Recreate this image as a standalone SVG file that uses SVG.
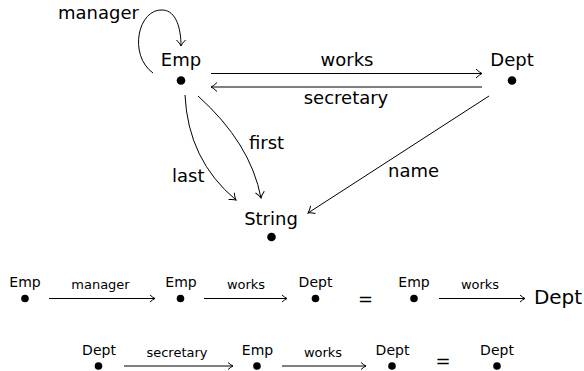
<svg xmlns="http://www.w3.org/2000/svg" width="584" height="371" viewBox="0 0 584 371">
<style>
text{font-family:"DejaVu Sans",sans-serif;fill:#000}
.n{font-size:18px;text-anchor:middle}
.e{font-size:18px}
.sn{font-size:14px;text-anchor:middle}
.se{font-size:13px;text-anchor:middle}
.c{fill:none;stroke:#000;stroke-width:1}
.d{fill:#000}
</style>
<defs>
<marker id="ah" markerUnits="userSpaceOnUse" markerWidth="12" markerHeight="12" viewBox="-8 -6 10 12" refX="0" refY="0" orient="auto">
<path d="M-6,-4.5 Q-2.5,-1 0,0 Q-2.5,1 -6,4.5" fill="none" stroke="#000" stroke-width="1"/>
</marker>
<marker id="as" markerUnits="userSpaceOnUse" markerWidth="10" markerHeight="10" viewBox="-7 -5 8 10" refX="0" refY="0" orient="auto">
<path d="M-5,-3.5 Q-2,-0.8 0,0 Q-2,0.8 -5,3.5" fill="none" stroke="#000" stroke-width="1"/>
</marker>
</defs>

<g id="connectors">
<path class="c" d="M153,73 C128,55 138,8 163,10 C176,11 181,28 181,46" marker-end="url(#ah)"/>
<text class="e" x="58" y="19">manager</text>
<line class="c" x1="211" y1="73.5" x2="482" y2="73.5" marker-end="url(#ah)"/>
<text class="e" x="347" y="66" text-anchor="middle">works</text>
<line class="c" x1="482" y1="87" x2="211" y2="87" marker-end="url(#ah)"/>
<text class="e" x="346" y="104" text-anchor="middle">secretary</text>
<path class="c" d="M185,95 Q188,160 236,200" marker-end="url(#ah)"/>
<text class="e" x="172" y="182">last</text>
<path class="c" d="M198,96 Q250.5,143 261,198" marker-end="url(#ah)"/>
<text class="e" x="249" y="149">first</text>
<line class="c" x1="489" y1="96" x2="308" y2="213" marker-end="url(#ah)"/>
<text class="e" x="388" y="177">name</text>
</g>

<g id="Emp">
<text class="n" x="181" y="66">Emp</text>
<circle class="d" cx="181" cy="80.5" r="4.3"/>
</g>
<g id="Dept">
<text class="n" x="512" y="66">Dept</text>
<circle class="d" cx="512" cy="80.5" r="4.3"/>
</g>
<g id="String">
<text class="n" x="271" y="225">String</text>
<circle class="d" cx="271.5" cy="237" r="4.3"/>
</g>

<g id="equation1">
<g id="eq1-emp1"><text class="sn" x="25" y="287">Emp</text><circle class="d" cx="25" cy="298.5" r="3.8"/></g>
<line class="c" x1="49" y1="298.5" x2="155" y2="298.5" marker-end="url(#as)"/>
<text class="se" x="100.5" y="289">manager</text>
<g id="eq1-emp2"><text class="sn" x="181" y="287">Emp</text><circle class="d" cx="180.5" cy="298.5" r="3.8"/></g>
<line class="c" x1="204" y1="298.5" x2="287" y2="298.5" marker-end="url(#as)"/>
<text class="se" x="246" y="289">works</text>
<g id="eq1-dept"><text class="sn" x="315.5" y="287">Dept</text><circle class="d" cx="315.5" cy="298.5" r="3.8"/></g>
<text class="n" x="365.5" y="305">=</text>
<g id="eq1-emp3"><text class="sn" x="414" y="287">Emp</text><circle class="d" cx="414" cy="298.5" r="3.8"/></g>
<line class="c" x1="439" y1="298.5" x2="525" y2="298.5" marker-end="url(#as)"/>
<text class="se" x="480" y="289">works</text>
<g id="eq1-dept2"><text x="558" y="304" font-size="20" text-anchor="middle">Dept</text></g>
</g>

<g id="equation2">
<g id="eq2-dept1"><text class="sn" x="99" y="355">Dept</text><circle class="d" cx="98.5" cy="366" r="3.8"/></g>
<line class="c" x1="124" y1="366" x2="233" y2="366" marker-end="url(#as)"/>
<text class="se" x="177" y="356.5">secretary</text>
<g id="eq2-emp"><text class="sn" x="257.5" y="355">Emp</text><circle class="d" cx="257" cy="366" r="3.8"/></g>
<line class="c" x1="282" y1="366" x2="366" y2="366" marker-end="url(#as)"/>
<text class="se" x="323" y="356.5">works</text>
<g id="eq2-dept2"><text class="sn" x="392.5" y="355">Dept</text><circle class="d" cx="392" cy="366" r="3.8"/></g>
<text class="n" x="443" y="367">=</text>
<g id="eq2-dept3"><text class="sn" x="497" y="355">Dept</text><circle class="d" cx="497" cy="366" r="3.8"/></g>
</g>
</svg>
